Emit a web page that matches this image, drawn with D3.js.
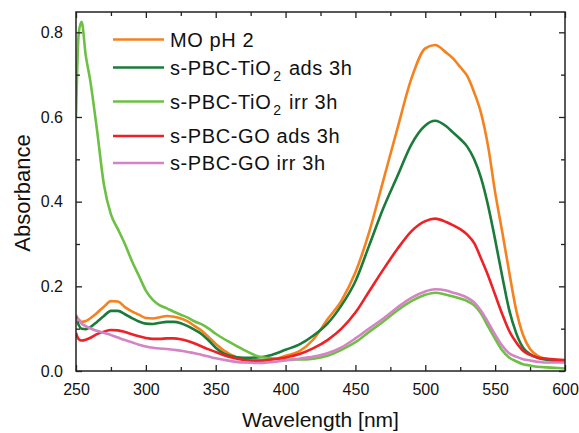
<!DOCTYPE html>
<html><head><meta charset="utf-8">
<script src="https://cdn.jsdelivr.net/npm/d3@7"></script>
<style>html,body{margin:0;padding:0;background:#fff;}svg{display:block;font-family:"Liberation Sans",Arial,sans-serif;}</style>
</head><body>
<script>
const wavelengths = [250,252,254,257,260,265,270,275,280,285,290,295,300,305,310,315,320,325,330,335,340,345,350,360,370,380,390,400,410,420,430,440,450,460,470,480,490,500,507,515,520,525,530,535,540,545,550,555,560,565,570,575,580,590,600];
const moPH2 = [0.132,0.120,0.116,0.118,0.124,0.137,0.152,0.165,0.164,0.151,0.141,0.133,0.125,0.124,0.127,0.130,0.128,0.124,0.117,0.106,0.095,0.080,0.064,0.040,0.028,0.025,0.027,0.036,0.047,0.075,0.122,0.166,0.233,0.330,0.451,0.572,0.690,0.762,0.770,0.752,0.738,0.718,0.697,0.658,0.608,0.530,0.422,0.330,0.235,0.145,0.085,0.052,0.037,0.026,0.022];
const tio2Ads = [0.128,0.108,0.100,0.099,0.103,0.116,0.130,0.142,0.142,0.134,0.125,0.117,0.112,0.111,0.114,0.116,0.116,0.113,0.106,0.097,0.087,0.072,0.055,0.036,0.031,0.032,0.038,0.050,0.063,0.084,0.112,0.155,0.212,0.298,0.385,0.460,0.535,0.580,0.591,0.578,0.563,0.548,0.530,0.500,0.455,0.390,0.310,0.225,0.145,0.090,0.055,0.040,0.032,0.025,0.022];
const tio2Irr = [0.600,0.800,0.825,0.745,0.690,0.570,0.440,0.370,0.335,0.300,0.260,0.225,0.190,0.168,0.155,0.148,0.140,0.133,0.126,0.117,0.110,0.100,0.088,0.068,0.050,0.035,0.030,0.027,0.027,0.029,0.036,0.050,0.068,0.093,0.117,0.143,0.165,0.180,0.185,0.180,0.176,0.171,0.165,0.155,0.135,0.105,0.076,0.049,0.032,0.023,0.016,0.013,0.010,0.008,0.006];
const goAds = [0.090,0.075,0.072,0.074,0.078,0.087,0.093,0.097,0.096,0.092,0.087,0.082,0.078,0.076,0.076,0.077,0.077,0.075,0.071,0.065,0.058,0.051,0.045,0.033,0.026,0.024,0.027,0.032,0.040,0.054,0.073,0.100,0.138,0.189,0.240,0.288,0.330,0.354,0.360,0.352,0.344,0.335,0.322,0.302,0.265,0.225,0.180,0.135,0.095,0.068,0.048,0.038,0.032,0.028,0.026];
const goIrr = [0.118,0.122,0.112,0.106,0.101,0.095,0.090,0.085,0.079,0.073,0.068,0.062,0.058,0.055,0.053,0.052,0.050,0.048,0.045,0.042,0.038,0.034,0.030,0.024,0.020,0.019,0.021,0.025,0.029,0.034,0.042,0.056,0.077,0.101,0.124,0.150,0.173,0.188,0.193,0.190,0.185,0.180,0.173,0.162,0.142,0.115,0.086,0.060,0.042,0.034,0.028,0.025,0.022,0.020,0.020];

const seriesNames = [["MO pH 2",null,""],["s-PBC-TiO","2"," ads 3h"],["s-PBC-TiO","2"," irr 3h"],["s-PBC-GO ads 3h",null,""],["s-PBC-GO irr 3h",null,""]];
const seriesColors = ["#f5821f","#1b7b3b","#6cc044","#ec2227","#d484c4"];
const seriesValues = [moPH2, tio2Ads, tio2Irr, goAds, goIrr];
const xTicks = [250,300,350,400,450,500,550,600];
const yTicks = [0.0,0.2,0.4,0.6,0.8];

const W = 579, H = 433;
const m = {left:76, right:565, top:12, bottom:371};
const svg = d3.select("body").append("svg").attr("width",W).attr("height",H);
const x = d3.scaleLinear().domain([250,600]).range([m.left,m.right]);
const y = d3.scaleLinear().domain([0,0.848]).range([m.bottom,m.top]);

const plot = svg.append("g");
plot.append("clipPath").attr("id","clip").append("rect").attr("x",m.left).attr("y",m.top).attr("width",m.right-m.left).attr("height",m.bottom-m.top);

const line = d3.line().x((d,i)=>x(wavelengths[i])).y(d=>y(d)).curve(d3.curveMonotoneX);
const curves = plot.append("g").attr("clip-path","url(#clip)");
seriesValues.forEach((vals,k)=>{
  curves.append("path").datum(vals).attr("d",line).attr("fill","none")
    .attr("stroke",seriesColors[k]).attr("stroke-width",2.6).attr("stroke-linejoin","round");
});

// axes with inward ticks
const axCol = "#222";
function styleAxis(g){ g.select(".domain").remove(); g.selectAll("line").attr("stroke",axCol).attr("stroke-width",1.3); g.selectAll("text").attr("fill","#111").style("font-size","16px").style("font-family","'Liberation Sans',Arial,sans-serif"); }
const xMinor = d3.range(275,600,50);
const yMinor = [0.1,0.3,0.5,0.7];
svg.append("g").attr("transform",`translate(0,${m.bottom})`).call(d3.axisBottom(x).tickValues(xTicks).tickSize(-6).tickPadding(13).tickFormat(d3.format("d"))).call(styleAxis);
svg.append("g").attr("transform",`translate(0,${m.bottom})`).call(d3.axisBottom(x).tickValues(xMinor).tickSize(-4).tickFormat("")).call(styleAxis);
svg.append("g").attr("transform",`translate(0,${m.top})`).call(d3.axisTop(x).tickValues(xTicks).tickSize(-6).tickFormat("")).call(styleAxis);
svg.append("g").attr("transform",`translate(0,${m.top})`).call(d3.axisTop(x).tickValues(xMinor).tickSize(-4).tickFormat("")).call(styleAxis);
svg.append("g").attr("transform",`translate(${m.left},0)`).call(d3.axisLeft(y).tickValues(yTicks).tickSize(-6).tickPadding(13).tickFormat(d3.format(".1f"))).call(styleAxis);
svg.append("g").attr("transform",`translate(${m.left},0)`).call(d3.axisLeft(y).tickValues(yMinor).tickSize(-4).tickFormat("")).call(styleAxis);
svg.append("g").attr("transform",`translate(${m.right},0)`).call(d3.axisRight(y).tickValues(yTicks).tickSize(-6).tickFormat("")).call(styleAxis);
svg.append("g").attr("transform",`translate(${m.right},0)`).call(d3.axisRight(y).tickValues(yMinor).tickSize(-4).tickFormat("")).call(styleAxis);

svg.append("rect").attr("x",m.left).attr("y",m.top).attr("width",m.right-m.left).attr("height",m.bottom-m.top)
  .attr("fill","none").attr("stroke",axCol).attr("stroke-width",1.5);

// axis titles
svg.append("text").attr("x",(m.left+m.right)/2).attr("y",427).attr("text-anchor","middle")
  .style("font-size","21px").attr("fill","#111").text("Wavelength [nm]");
svg.append("text").attr("transform","translate(30,193) rotate(-90)").attr("text-anchor","middle")
  .style("font-size","22px").attr("fill","#111").text("Absorbance");

// legend
const legendY = [39.5,67.5,101.5,136,163];
const leg = svg.append("g");
seriesNames.forEach((nm,k)=>{
  const ly = legendY[k];
  leg.append("line").attr("x1",113).attr("x2",164).attr("y1",ly).attr("y2",ly)
    .attr("stroke",seriesColors[k]).attr("stroke-width",2.6);
  const t = leg.append("text").attr("x",170).attr("y",ly+7).style("font-size","20px")
    .style("letter-spacing","0.6px").attr("fill","#111");
  t.append("tspan").text(nm[0]);
  if(nm[1]){
    t.append("tspan").attr("dy",6).attr("dx",2).style("font-size","14px").text(nm[1]);
    t.append("tspan").attr("dy",-6).attr("dx",1).text(nm[2]);
  }
});
</script>
</body></html>
